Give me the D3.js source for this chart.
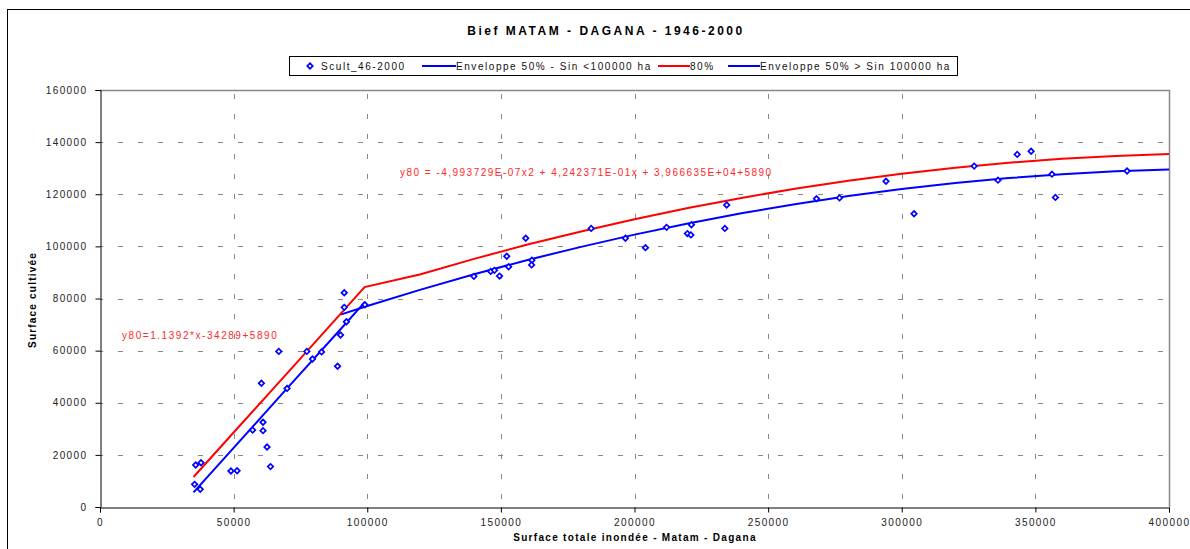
<!DOCTYPE html>
<html>
<head>
<meta charset="utf-8">
<script src="https://cdn.jsdelivr.net/npm/d3@7"></script>
<style>
  body { margin: 0; background: #fff; }
  text { font-family: "Liberation Sans", Arial, sans-serif; }
</style>
</head>
<body>
<div id="chart"></div>
<script>
// Observations: surface totale inondée (x) vs surface cultivée (y)
const obsX = [35400, 35800, 37500, 37800, 49000, 51300, 57100, 60400, 61000, 61000,
  62500, 63800, 66900, 70000, 77400, 79500, 82900, 88900, 90000, 91400,
  91400, 92200, 99100, 139900, 146200, 147600, 149500, 152200, 152900, 159300,
  161600, 161500, 183800, 196600, 204100, 212000, 219800, 221100, 221300, 233800,
  234500, 268100, 276700, 294100, 304600, 327100, 336000, 343200, 348400, 356200,
  357500, 384300];
const obsY = [8700, 16100, 6800, 17000, 13800, 13900, 29500, 47500, 32500, 29300,
  23000, 15500, 59700, 45500, 59700, 56800, 59500, 54000, 66000, 82200,
  76600, 71100, 77600, 88500, 90400, 90800, 88600, 96200, 92200, 103100,
  94700, 92900, 106900, 103100, 99500, 107300, 104900, 104400, 108300, 106900,
  115900, 118300, 118600, 125000, 112500, 130800, 125400, 135300, 136500, 127700,
  118800, 128900];

// Enveloppe 50% - Sin < 100000 ha
const env1X = [35000, 50000, 70000, 90000, 99000];
const env1Y = [5600, 22700, 45500, 68200, 78500];

// 80% curve
const red80X = [35000, 50000, 70000, 90000, 99000, 120000, 140000, 160000, 180000,
  200000, 220000, 240000, 260000, 280000, 300000, 320000, 340000, 360000, 380000, 400000];
const red80Y = [11500, 28600, 51300, 74100, 84400, 89300, 95200, 100700, 105700,
  110400, 114700, 118600, 122100, 125200, 127900, 130200, 132100, 133600, 134700, 135400];

// Enveloppe 50% > Sin 100000 ha
const env2X = [90000, 100000, 120000, 140000, 160000, 180000, 200000, 220000, 240000,
  260000, 280000, 300000, 320000, 340000, 360000, 380000, 400000];
const env2Y = [73800, 77100, 83400, 89300, 94800, 99800, 104500, 108800, 112700,
  116200, 119300, 122000, 124300, 126200, 127700, 128800, 129500];

const xTicks = [0, 50000, 100000, 150000, 200000, 250000, 300000, 350000, 400000];
const yTicks = [0, 20000, 40000, 60000, 80000, 100000, 120000, 140000, 160000];

const legendLabels = ['Scult_46-2000', 'Enveloppe 50% - Sin <100000 ha', '80%', 'Enveloppe 50% > Sin 100000 ha'];

const width = 1190, height = 549;
const margin = {top: 90, right: 21, bottom: 42, left: 100};

const svg = d3.select('#chart').append('svg')
  .attr('width', width)
  .attr('height', height);

// outer frame (runs past the right/bottom edge)
svg.append('rect')
  .attr('x', 7.5).attr('y', 9.5)
  .attr('width', width).attr('height', height)
  .attr('fill', 'none').attr('stroke', '#000');

const x = d3.scaleLinear().domain([0, 400000]).range([margin.left, width - margin.right]);
const y = d3.scaleLinear().domain([0, 160000]).range([height - margin.bottom, margin.top]);

// grid
svg.append('g').selectAll('line')
  .data(yTicks.slice(1, -1))
  .join('line')
  .attr('x1', x(0)).attr('x2', x(400000))
  .attr('y1', d => Math.round(y(d)) + 0.5).attr('y2', d => Math.round(y(d)) + 0.5)
  .attr('stroke', '#888').attr('stroke-dasharray', '5,15').attr('stroke-dashoffset', -18);

svg.append('g').selectAll('line')
  .data(xTicks.slice(1, -1))
  .join('line')
  .attr('y1', y(0)).attr('y2', y(160000))
  .attr('x1', d => Math.round(x(d)) + 0.5).attr('x2', d => Math.round(x(d)) + 0.5)
  .attr('stroke', '#888').attr('stroke-dasharray', '5,15').attr('stroke-dashoffset', -8);

// plot area border top/right
svg.append('path')
  .attr('d', `M${x(0)},${Math.round(y(160000)) + 0.5}H${Math.round(x(400000)) + 0.5}V${y(0)}`)
  .attr('fill', 'none').attr('stroke', '#888').attr('stroke-width', 1.5);

// axes
const xAxis = d3.axisBottom(x).tickValues(xTicks).tickFormat(d3.format('d')).tickSizeOuter(0).tickSize(5).tickPadding(6);
const yAxis = d3.axisLeft(y).tickValues(yTicks).tickFormat(d3.format('d')).tickSizeOuter(0).tickSize(5).tickPadding(8);

const xAxisG = svg.append('g')
  .attr('transform', `translate(0,${Math.round(y(0)) + 0.5})`)
  .call(xAxis);
const yAxisG = svg.append('g')
  .attr('transform', `translate(${Math.round(x(0)) + 0.5},0)`)
  .call(yAxis);

[xAxisG, yAxisG].forEach(g => {
  g.select('.domain').attr('stroke', '#000');
  g.selectAll('.tick line').attr('stroke', '#000');
  g.selectAll('.tick text')
    .attr('font-size', 10)
    .attr('fill', '#222')
    .attr('letter-spacing', 1.4)
    .style('font-family', '"Liberation Sans", Arial, sans-serif');
});

// lines
const line = d3.line().x(d => x(d[0])).y(d => y(d[1]));
const series = [
  {xs: env1X, ys: env1Y, color: '#0000ff'},
  {xs: env2X, ys: env2Y, color: '#0000ff'},
  {xs: red80X, ys: red80Y, color: '#ff0000'}
];
series.forEach(s => {
  svg.append('path')
    .datum(d3.zip(s.xs, s.ys))
    .attr('d', line)
    .attr('fill', 'none')
    .attr('stroke', s.color)
    .attr('stroke-width', 2);
});

// points
const diamond = d3.symbol(d3.symbolSquare, 15)();
svg.append('g').selectAll('path')
  .data(d3.zip(obsX, obsY))
  .join('path')
  .attr('d', diamond)
  .attr('transform', d => `translate(${x(d[0])},${y(d[1])}) rotate(45)`)
  .attr('fill', '#fff')
  .attr('stroke', '#0000ff')
  .attr('stroke-width', 1.7);

// equations
svg.append('text')
  .attr('x', 122).attr('y', 339)
  .attr('font-size', 10).attr('fill', '#ff2828').attr('letter-spacing', 1.55)
  .text('y80=1.1392*x-34289+5890');
svg.append('text')
  .attr('x', 400).attr('y', 176)
  .attr('font-size', 10).attr('fill', '#ff2828').attr('letter-spacing', 1.48)
  .text('y80 = -4,993729E-07x2 + 4,242371E-01x + 3,966635E+04+5890');

// title
svg.append('text')
  .attr('x', 606).attr('y', 35)
  .attr('text-anchor', 'middle')
  .attr('font-size', 12).attr('font-weight', 'bold').attr('letter-spacing', 2.5)
  .text('Bief MATAM - DAGANA - 1946-2000');

// axis titles
svg.append('text')
  .attr('x', 635).attr('y', 541)
  .attr('text-anchor', 'middle')
  .attr('font-size', 10).attr('font-weight', 'bold').attr('letter-spacing', 1.3)
  .text('Surface totale inondée - Matam - Dagana');
svg.append('text')
  .attr('transform', 'translate(36,300) rotate(-90)')
  .attr('text-anchor', 'middle')
  .attr('font-size', 10).attr('font-weight', 'bold').attr('letter-spacing', 1.2)
  .text('Surface cultivée');

// legend
const legend = svg.append('g');
legend.append('rect')
  .attr('x', 289.5).attr('y', 56.5).attr('width', 668).attr('height', 19)
  .attr('fill', '#fff').attr('stroke', '#000');
legend.append('path')
  .attr('d', diamond)
  .attr('transform', 'translate(310,66) rotate(45)')
  .attr('fill', '#fff').attr('stroke', '#0000ff').attr('stroke-width', 1.7);
const legendItems = [
  {label: legendLabels[0], x0: null, x1: 321, color: null},
  {label: legendLabels[1], x0: 422, x1: 456, color: '#0000ff'},
  {label: legendLabels[2], x0: 658, x1: 690, color: '#ff0000'},
  {label: legendLabels[3], x0: 728, x1: 760, color: '#0000ff'}
];
legendItems.forEach(it => {
  if (it.color) {
    legend.append('line')
      .attr('x1', it.x0).attr('x2', it.x1).attr('y1', 66).attr('y2', 66)
      .attr('stroke', it.color).attr('stroke-width', 2);
  }
  legend.append('text')
    .attr('x', it.x1).attr('y', 69.5)
    .attr('font-size', 10).attr('letter-spacing', 1.55).attr('fill', '#111')
    .text(it.label);
});
</script>
</body>
</html>
